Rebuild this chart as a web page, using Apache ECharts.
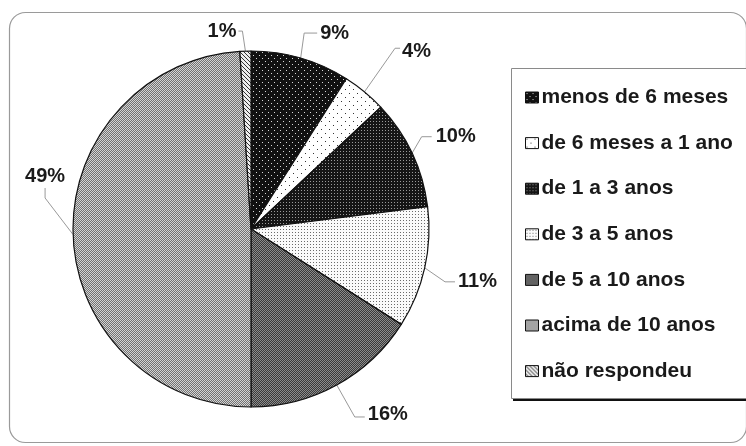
<!DOCTYPE html>
<html>
<head>
<meta charset="utf-8">
<script src="https://cdn.jsdelivr.net/npm/echarts@6/dist/echarts.min.js"></script>
<style>
  html, body { margin: 0; padding: 0; background: #fff; }
  #chart { width: 746px; height: 446px; }
</style>
</head>
<body>
<div id="chart"></div>
<script>
// Tempo de atuação — distribuição percentual das respostas
const categories = [
  'menos de 6 meses',
  'de 6 meses a 1 ano',
  'de 1 a 3 anos',
  'de 3 a 5 anos',
  'de 5 a 10 anos',
  'acima de 10 anos',
  'não respondeu'
];
const percentages = [9, 4, 10, 11, 16, 49, 1];

// Leader-line shape for each slice label, relative to the slice's edge point:
// first bend, second segment, which side the text hangs from, text offset.
const leaders = [
  { bend: [3.5, -25], tail: [13, 0], side: 'left', off: [3, 0] },
  { bend: [30.6, -43.6], tail: [5, 0], side: 'left', off: [2, 3] },
  { bend: [9.6, -16.5], tail: [10, 0], side: 'left', off: [4, 0] },
  { bend: [20.3, 14], tail: [10, 0], side: 'left', off: [3, 0] },
  { bend: [18, 32], tail: [10, 0], side: 'left', off: [3, -2] },
  { bend: [-28, -36.6], tail: [0, -10], side: 'bottom', off: [0, -2] },
  { bend: [-3, -20], tail: [-4, 0], side: 'right', off: [-2, 0] }
];

// Small tiled canvases used as print-style hatch fills
function tile(size, bg, draw) {
  const c = document.createElement('canvas');
  c.width = size; c.height = size;
  const g = c.getContext('2d');
  g.fillStyle = bg;
  g.fillRect(0, 0, size, size);
  draw(g);
  return { image: c, repeat: 'repeat' };
}
function dots(size, bg, fg, pts, d) {
  return tile(size, bg, g => {
    g.fillStyle = fg;
    pts.forEach(p => g.fillRect(p[0], p[1], d, d));
  });
}
const fills = [
  // black with sparse white dots
  dots(6, '#111', '#d8d8d8', [[1, 1], [4, 4]], 1),
  // white with sparse black dots
  dots(8, '#fff', '#333', [[1, 1], [5, 5]], 1),
  // black with dense white dots
  dots(3, '#151515', '#9a9a9a', [[1, 1]], 1),
  // white with dense black dots
  dots(3, '#fafafa', '#6a6a6a', [[1, 1]], 1),
  // dark grey check
  tile(2, '#3a3a3a', g => { g.fillStyle = '#8c8c8c'; g.fillRect(0, 0, 1, 1); g.fillRect(1, 1, 1, 1); }),
  // mid grey check
  tile(2, '#727272', g => { g.fillStyle = '#d4d4d4'; g.fillRect(0, 0, 1, 1); g.fillRect(1, 1, 1, 1); }),
  // diagonal hatch
  tile(4, '#eee', g => {
    g.strokeStyle = '#333'; g.lineWidth = 1;
    g.beginPath(); g.moveTo(0, 0); g.lineTo(4, 4); g.stroke();
  })
];

const pieData = categories.map((name, i) => ({
  name: name,
  value: percentages[i],
  itemStyle: { color: fills[i] }
}));

const FONT = 'Liberation Sans, Arial, sans-serif';

const chart = echarts.init(document.getElementById('chart'), null, { renderer: 'canvas' });
chart.setOption({
  backgroundColor: '#fff',
  animation: false,
  graphic: [
    {
      type: 'rect',
      shape: { x: 9.5, y: 12.5, width: 737, height: 430, r: 16 },
      style: { fill: 'none', stroke: '#9a9a9a', lineWidth: 1.2 },
      z: 0
    },
    {
      type: 'rect',
      shape: { x: 513, y: 398.5, width: 240, height: 2.5 },
      style: { fill: '#111' },
      z: 0
    },
    {
      type: 'rect',
      shape: { x: 511.5, y: 68.5, width: 250, height: 330 },
      style: { fill: '#fff', stroke: '#8a8a8a', lineWidth: 1 },
      z: 0
    }
  ],
  legend: {
    orient: 'vertical',
    left: 525,
    top: 87,
    padding: 0,
    itemWidth: 13,
    itemHeight: 11,
    itemGap: 24.6,
    icon: 'rect',
    selectedMode: false,
    itemStyle: { borderColor: '#111', borderWidth: 1 },
    textStyle: {
      fontFamily: FONT,
      fontWeight: 'bold',
      fontSize: 21,
      color: '#1a1a1a',
      padding: [0, 0, 0, -2]
    },
    data: categories
  },
  series: [{
    type: 'pie',
    center: [251, 229],
    radius: 178,
    startAngle: 90,
    clockwise: true,
    avoidLabelOverlap: false,
    data: pieData,
    itemStyle: { borderColor: '#111', borderWidth: 1.2 },
    label: {
      show: true,
      position: 'outside',
      formatter: '{c}%',
      fontFamily: FONT,
      fontWeight: 'bold',
      fontSize: 20,
      color: '#1a1a1a'
    },
    labelLine: {
      show: true,
      length: 16,
      length2: 10,
      lineStyle: { color: '#999', width: 1 }
    },
    labelLayout: function (params) {
      const g = leaders[params.dataIndex];
      const pts = params.labelLinePoints;
      if (!g || !pts) return {};
      const p0 = pts[0];
      const p1 = [p0[0] + g.bend[0], p0[1] + g.bend[1]];
      const p2 = [p1[0] + g.tail[0], p1[1] + g.tail[1]];
      const out = {
        labelLinePoints: [p0, p1, p2],
        x: p2[0] + g.off[0],
        y: p2[1] + g.off[1]
      };
      if (g.side === 'bottom') {
        out.align = 'center';
        out.verticalAlign = 'bottom';
      } else {
        out.align = g.side;
        out.verticalAlign = 'middle';
      }
      return out;
    },
    emphasis: { disabled: true }
  }]
});
</script>
</body>
</html>
